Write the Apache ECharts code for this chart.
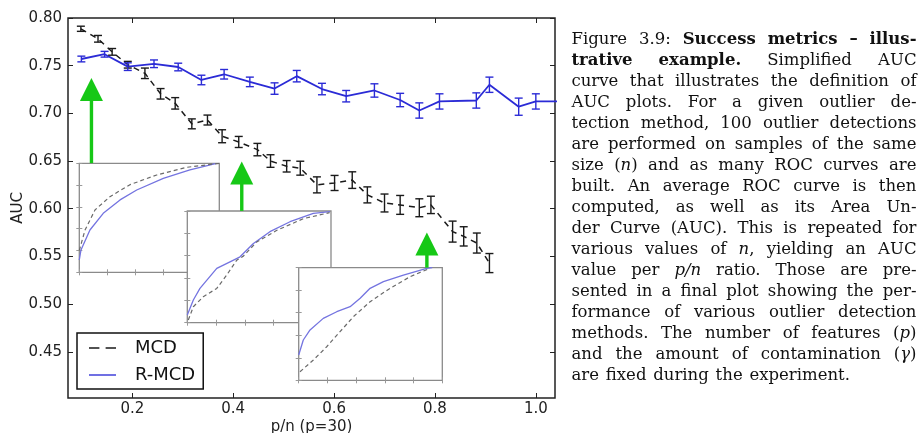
<!DOCTYPE html>
<html><head><meta charset="utf-8">
<script src="https://cdn.jsdelivr.net/npm/echarts@6/dist/echarts.min.js"></script>
<style>html,body{margin:0;padding:0;background:#fff}#c{width:920px;height:433px}</style>
</head><body><div id="c"></div>
<script>
// ---------------- data ----------------
const mcdX   = [0.098,0.132,0.160,0.191,0.225,0.256,0.285,0.318,0.349,0.378,0.411,0.448,0.474,0.506,0.533,0.566,0.601,0.636,0.666,0.700,0.731,0.769,0.792,0.835,0.857,0.883,0.908];
const mcdAUC = [0.7887,0.7782,0.7645,0.751,0.742,0.7205,0.7105,0.689,0.693,0.676,0.670,0.662,0.650,0.6445,0.6425,0.625,0.627,0.630,0.6145,0.606,0.604,0.601,0.604,0.576,0.571,0.564,0.543];
const mcdErr = [0.0027,0.0035,0.0035,0.0035,0.0055,0.0055,0.006,0.0052,0.0052,0.0068,0.0058,0.0065,0.0066,0.006,0.0073,0.0084,0.0079,0.0087,0.0084,0.0094,0.0099,0.0094,0.0091,0.011,0.0101,0.0105,0.010];

const rmcdX   = [0.099,0.145,0.191,0.243,0.291,0.337,0.382,0.433,0.482,0.526,0.576,0.624,0.680,0.731,0.769,0.809,0.882,0.908,0.966,1.000,1.070];
const rmcdAUC = [0.757,0.762,0.749,0.752,0.7486,0.735,0.741,0.733,0.726,0.739,0.7255,0.718,0.724,0.714,0.703,0.7125,0.7135,0.730,0.707,0.7125,0.7125];
const rmcdErr = [0.003,0.003,0.004,0.004,0.004,0.005,0.005,0.005,0.006,0.006,0.006,0.006,0.007,0.007,0.008,0.008,0.008,0.008,0.009,0.008,0.008];

const xTicks = [0.2,0.4,0.6,0.8,1.0];
const yTicks = [0.45,0.50,0.55,0.60,0.65,0.70,0.75,0.80];

// green arrows (main-axis data units)
const arrowX    = [0.119, 0.417, 0.784];
const arrowTip  = [0.737, 0.6495, 0.575];
const arrowBase = [0.6478, 0.5977, 0.5382];

// inset ROC curves (false positive rate, true positive rate)
const roc1RmcdFPR = [0,0.012,0.076,0.171,0.291,0.41,0.6,0.79,0.98];
const roc1RmcdTPR = [0.113,0.205,0.388,0.541,0.664,0.755,0.862,0.94,1.0];
const roc1McdFPR  = [0,0.041,0.112,0.219,0.362,0.553,0.767,1.0];
const roc1McdTPR  = [0.2,0.388,0.572,0.694,0.804,0.893,0.963,1.0];

const roc2RmcdFPR = [0,0.042,0.088,0.205,0.297,0.367,0.46,0.575,0.715,0.877,0.993];
const roc2RmcdTPR = [0.069,0.203,0.307,0.486,0.545,0.59,0.709,0.815,0.904,0.979,0.994];
const roc2McdFPR  = [0.007,0.042,0.111,0.205,0.274,0.344,0.39,0.483,0.623,0.809,0.99];
const roc2McdTPR  = [0.024,0.143,0.232,0.307,0.426,0.56,0.596,0.723,0.827,0.932,0.985];

const roc3RmcdFPR = [0,0.032,0.079,0.171,0.265,0.358,0.428,0.497,0.59,0.729,0.891,0.93];
const roc3RmcdTPR = [0.225,0.358,0.447,0.55,0.609,0.654,0.728,0.817,0.876,0.935,0.995,1.0];
const roc3McdFPR  = [0.009,0.102,0.195,0.288,0.381,0.497,0.636,0.775,0.914];
const roc3McdTPR  = [0.076,0.18,0.298,0.432,0.565,0.698,0.817,0.92,0.995];

const captionLines = [
 'Figure 3.9: {b|Success} {b|metrics} {b|–} {b|illus-}',
 '{b|trative} {b|example.} Simplified AUC',
 'curve that illustrates the definition of',
 'AUC plots. For a given outlier de-',
 'tection method, 100 outlier detections',
 'are performed on samples of the same',
 'size ({i|n}) and as many ROC curves are',
 'built. An average ROC curve is then',
 'computed, as well as its Area Un-',
 'der Curve (AUC). This is repeated for',
 'various values of {i|n}, yielding an AUC',
 'value per {i|p/n} ratio. Those are pre-',
 'sented in a final plot showing the per-',
 'formance of various outlier detection',
 'methods. The number of features ({i|p})',
 'and the amount of contamination ({i|γ})',
 'are fixed during the experiment.'
];

// ---------------- build ----------------
const zip3 = (a,b,c) => a.map((v,i)=>[v,b[i],c[i]]);
const zip2 = (a,b) => a.map((v,i)=>[v,b[i]]);

const MAIN_BLUE = '#2b2bd6';
const INK = '#1a1a1a';
const GREEN = '#16c816';

function errRender(color, lw){
  return function(params, api){
    const x=api.value(0), y=api.value(1), e=api.value(2);
    const t=api.coord([x,y+e]), b=api.coord([x,y-e]);
    const cw=4;
    const st={stroke:color,lineWidth:lw};
    return {type:'group',children:[
      {type:'line',shape:{x1:t[0],y1:t[1],x2:b[0],y2:b[1]},style:st},
      {type:'line',shape:{x1:t[0]-cw,y1:t[1],x2:t[0]+cw,y2:t[1]},style:st},
      {type:'line',shape:{x1:b[0]-cw,y1:b[1],x2:b[0]+cw,y2:b[1]},style:st}
    ]};
  };
}
function arrowRender(params, api){
  const x=api.value(0);
  const tip=api.coord([x,api.value(1)]), base=api.coord([x,api.value(2)]);
  const hw=11.5, hh=23, sw=3.4;
  return {type:'group',children:[
    {type:'rect',shape:{x:tip[0]-sw/2,y:tip[1]+hh-2,width:sw,height:base[1]-tip[1]-hh+2},style:{fill:GREEN}},
    {type:'polygon',shape:{points:[[tip[0],tip[1]],[tip[0]-hw,tip[1]+hh],[tip[0]+hw,tip[1]+hh]]},style:{fill:GREEN}}
  ]};
}

const insetBoxes = [
  {left:79.3, top:163.3, width:140, height:109},
  {left:187.3, top:211, width:143.7, height:111.7},
  {left:298.7, top:267.7, width:143.6, height:112.6}
];
const insetCurves = [
  [zip2(roc1RmcdFPR,roc1RmcdTPR), zip2(roc1McdFPR,roc1McdTPR)],
  [zip2(roc2RmcdFPR,roc2RmcdTPR), zip2(roc2McdFPR,roc2McdTPR)],
  [zip2(roc3RmcdFPR,roc3RmcdTPR), zip2(roc3McdFPR,roc3McdTPR)]
];

const tickFont = {fontFamily:'DejaVu Sans', fontSize:15, color:'#222'};

const grids = [{left:68, top:18, width:487, height:380, show:true, borderColor:'#222', borderWidth:1.5, z:0, outerBoundsMode:'none', containLabel:false}];
const xAxes = [
  {gridIndex:0,type:'value',min:0.0725,max:1.038,position:'bottom',
   axisLine:{show:false},splitLine:{show:false},
   axisTick:{inside:true,length:5,lineStyle:{color:'#222',width:1},customValues:xTicks},
   axisLabel:Object.assign({customValues:xTicks,formatter:v=>v.toFixed(1),margin:4},tickFont),
   name:'p/n (p=30)',nameLocation:'middle',nameGap:21.5,nameMoveOverlap:false,nameTextStyle:tickFont},
  {gridIndex:0,type:'value',min:0.0725,max:1.038,position:'top',
   axisLine:{show:false},splitLine:{show:false},axisLabel:{show:false},
   axisTick:{inside:true,length:5,lineStyle:{color:'#222',width:1},customValues:xTicks}}
];
const yAxes = [
  {gridIndex:0,type:'value',min:0.4015,max:0.8,position:'left',
   axisLine:{show:false},splitLine:{show:false},
   axisTick:{inside:true,length:5,lineStyle:{color:'#222',width:1},customValues:yTicks},
   axisLabel:Object.assign({customValues:yTicks,formatter:v=>v.toFixed(2),margin:6},tickFont),
   name:'AUC',nameLocation:'middle',nameGap:42,nameRotate:90,nameMoveOverlap:false,nameTextStyle:tickFont},
  {gridIndex:0,type:'value',min:0.4015,max:0.8,position:'right',
   axisLine:{show:false},splitLine:{show:false},axisLabel:{show:false},
   axisTick:{inside:true,length:5,lineStyle:{color:'#222',width:1},customValues:yTicks}}
];

const series = [
  {name:'MCD',type:'line',xAxisIndex:0,yAxisIndex:0,data:zip2(mcdX,mcdAUC),symbol:'none',
   lineStyle:{color:INK,width:1.5,type:[6,5]},itemStyle:{color:INK},z:3,silent:true},
  {name:'mcd-err',type:'custom',xAxisIndex:0,yAxisIndex:0,data:zip3(mcdX,mcdAUC,mcdErr),
   renderItem:errRender(INK,1.4),encode:{x:0,y:1},clip:true,z:4,silent:true},
  {name:'R-MCD',type:'line',xAxisIndex:0,yAxisIndex:0,data:zip2(rmcdX,rmcdAUC),symbol:'none',
   lineStyle:{color:MAIN_BLUE,width:1.8},itemStyle:{color:MAIN_BLUE},z:3,silent:true},
  {name:'rmcd-err',type:'custom',xAxisIndex:0,yAxisIndex:0,data:zip3(rmcdX,rmcdAUC,rmcdErr),
   renderItem:errRender(MAIN_BLUE,1.4),encode:{x:0,y:1},clip:true,z:4,silent:true},
  {name:'arrows',type:'custom',xAxisIndex:0,yAxisIndex:0,data:zip3(arrowX,arrowTip,arrowBase),
   renderItem:arrowRender,encode:{x:0,y:1},z:50,silent:true}
];

insetBoxes.forEach((bx,k)=>{
  const gi=k+1, z=10*(k+1);
  grids.push(Object.assign({show:true,backgroundColor:'#fff',borderColor:'#8a8a8a',borderWidth:1.3,z:z,outerBoundsMode:'none',containLabel:false},bx));
  const ax=(pos)=>({gridIndex:gi,type:'value',min:0,max:1,interval:0.2,position:pos,
    axisLine:{show:false},splitLine:{show:false},axisLabel:{show:false},
    axisTick:{show:true,inside:true,length:3,lineStyle:{color:'#9a9a9a',width:1}},z:z+1});
  xAxes.push(ax('bottom')); xAxes.push(ax('top'));
  yAxes.push(ax('left')); yAxes.push(ax('right'));
  const ai=2+2*k;
  series.push({name:'inset'+k+'-rmcd',type:'line',xAxisIndex:ai,yAxisIndex:ai,data:insetCurves[k][0],
    symbol:'none',lineStyle:{color:'#7474e0',width:1.3},z:z+2,silent:true});
  series.push({name:'inset'+k+'-mcd',type:'line',xAxisIndex:ai,yAxisIndex:ai,data:insetCurves[k][1],
    symbol:'none',lineStyle:{color:'#6a6a6a',width:1.2,type:[4,3]},z:z+2,silent:true});
});

// ---------------- caption layout ----------------
const cv=document.createElement('canvas').getContext('2d');
const FAM='"DejaVu Serif"';
function fontOf(s,size){return (s==='i'?'italic ':'')+(s==='b'?'bold ':'')+size+'px '+FAM;}
function parseWord(w){const segs=[];const re=/\{([bi])\|([^}]*)\}|([^{]+)/g;let m;
  while((m=re.exec(w))){ if(m[3]!==undefined) segs.push({s:'r',t:m[3]}); else segs.push({s:m[1],t:m[2]}); }
  return segs;}
function wordW(segs,size){return segs.reduce((a,sg)=>{cv.font=fontOf(sg.s,size);return a+cv.measureText(sg.t).width;},0);}
const capX=571.5, capW=345, capY0=39.5, capDY=21.0;
const parsed=captionLines.map(l=>l.split(' ').map(parseWord));
let capSize=16.5;
for(;capSize>12;capSize-=0.25){
  let ok=true;
  for(let i=0;i<parsed.length-1;i++){
    const tot=parsed[i].reduce((a,w)=>a+wordW(w,capSize),0)+(parsed[i].length-1)*3.5;
    if(tot>capW){ok=false;break;}
  }
  if(ok)break;
}
const rich={};
['r','b','i'].forEach(s=>{rich[s]={fontFamily:'DejaVu Serif',fontSize:capSize,fontWeight:s==='b'?'bold':'normal',fontStyle:s==='i'?'italic':'normal',fill:'#111'};});
const gElems=[];
parsed.forEach((words,i)=>{
  const ws=words.map(w=>wordW(w,capSize));
  const sum=ws.reduce((a,b)=>a+b,0);
  cv.font=fontOf('r',capSize);
  const last=(i===parsed.length-1);
  const gap= last ? cv.measureText(' ').width*1.3 : (capW-sum)/(words.length-1);
  let x=capX; const y=capY0+i*capDY;
  words.forEach((w,j)=>{
    gElems.push({type:'text',x:x,y:y,silent:true,style:{
      text:w.map(sg=>'{'+sg.s+'|'+sg.t+'}').join(''),rich:rich,
      fontFamily:'DejaVu Serif',fontSize:capSize,fill:'#111',verticalAlign:'middle',align:'left'}});
    x+=ws[j]+gap;
  });
});

const option={
  animation:false,
  backgroundColor:'#fff',
  grid:grids, xAxis:xAxes, yAxis:yAxes, series:series,
  legend:{
    left:77, top:333, orient:'vertical', selectedMode:false,
    data:[
      {name:'MCD',icon:'path://M0,0h10v1.5h-10zM16,0h10v1.5h-10z',itemStyle:{color:INK,borderWidth:0}},
      {name:'R-MCD',icon:'path://M0,0h26v1.3h-26z',itemStyle:{color:MAIN_BLUE,borderWidth:0}}
    ],
    itemWidth:27, itemHeight:14, itemGap:9, padding:[6,8,5,12],
    backgroundColor:'#fff', borderColor:'#111', borderWidth:1.5, borderRadius:0,
    textStyle:{fontFamily:'DejaVu Sans',fontSize:18,color:'#111',padding:[0,0,0,14]},
    z:60
  },
  graphic:{elements:gElems}
};
const chart=echarts.init(document.getElementById('c'),null,{renderer:'canvas'});
chart.setOption(option);
</script></body></html>
